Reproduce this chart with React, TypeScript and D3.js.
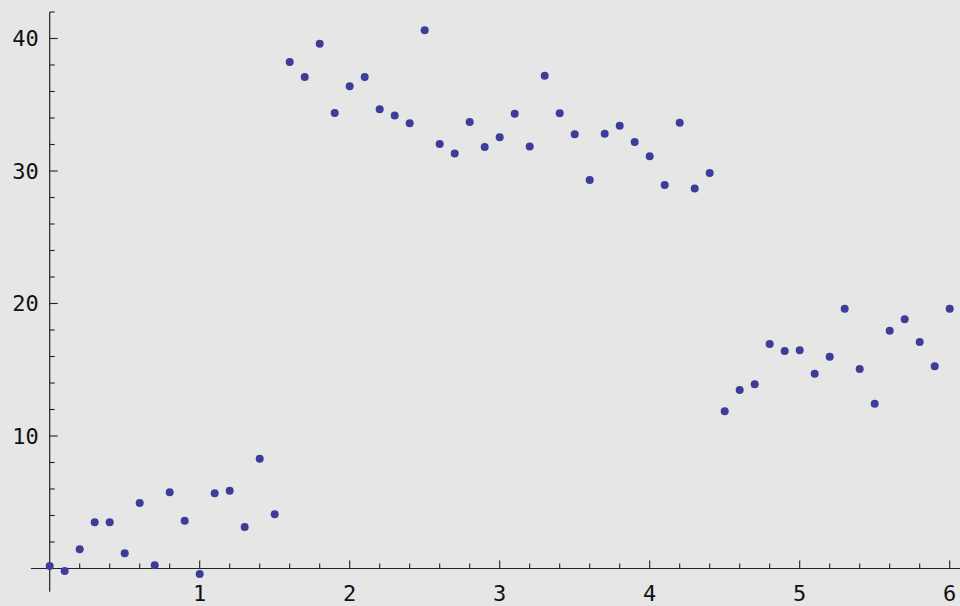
import React, { useEffect, useRef } from 'react';
import * as d3 from 'd3';

// sample positions 0, 0.1, ..., 6.0
const xValues = d3.range(61).map(i => i / 10);

const yValues = [
  0.19, -0.19, 1.45, 3.49, 3.49, 1.15, 4.94, 0.24, 5.75, 3.61,
  -0.42, 5.67, 5.87, 3.13, 8.29, 4.09,
  38.23, 37.09, 39.61, 34.38, 36.39, 37.09, 34.66, 34.18, 33.6, 40.62,
  32.04, 31.33, 33.7, 31.81, 32.54, 34.33, 31.84, 37.19, 34.35, 32.77,
  29.32, 32.82, 33.42, 32.19, 31.11, 28.94, 33.65, 28.67, 29.85,
  11.86, 13.47, 13.9, 16.94, 16.42, 16.47, 14.7, 15.99, 19.61, 15.06,
  12.44, 17.95, 18.81, 17.09, 15.26, 19.61,
];

const xMajorTicks = [1, 2, 3, 4, 5, 6];
const yMajorTicks = [10, 20, 30, 40];

const App: React.FC = () => {
  const svgRef = useRef<SVGSVGElement>(null);

  useEffect(() => {
    if (!svgRef.current) return;
    const svg = d3.select(svgRef.current);
    svg.selectAll('*').remove();

    const width = 960;
    const height = 606;

    const xScale = d3.scaleLinear().domain([0, 6]).range([49.7, 949.7]);
    const yScale = d3.scaleLinear().domain([0, 40]).range([568.5, 38.5]);

    svg.append('rect')
      .attr('width', width)
      .attr('height', height)
      .attr('fill', '#e6e6e6');

    const axisColor = '#222';
    const x0 = xScale(0);
    const y0 = yScale(0);

    // axis lines
    svg.append('line')
      .attr('x1', xScale(-0.125)).attr('x2', width)
      .attr('y1', y0).attr('y2', y0)
      .attr('stroke', axisColor).attr('stroke-width', 1.2);

    svg.append('line')
      .attr('x1', x0).attr('x2', x0)
      .attr('y1', yScale(-1.75)).attr('y2', yScale(42))
      .attr('stroke', axisColor).attr('stroke-width', 1.2);

    // x ticks
    const xMinor = d3.range(1, 31).map(i => i / 5).filter(v => !xMajorTicks.includes(v));
    svg.append('g').selectAll('line.minor')
      .data(xMinor)
      .join('line')
      .attr('x1', d => xScale(d)).attr('x2', d => xScale(d))
      .attr('y1', y0).attr('y2', y0 - 5)
      .attr('stroke', axisColor).attr('stroke-width', 1.1);

    svg.append('g').selectAll('line.major')
      .data(xMajorTicks)
      .join('line')
      .attr('x1', d => xScale(d)).attr('x2', d => xScale(d))
      .attr('y1', y0).attr('y2', y0 - 8)
      .attr('stroke', axisColor).attr('stroke-width', 1.1);

    svg.append('g').selectAll('text')
      .data(xMajorTicks)
      .join('text')
      .attr('x', d => xScale(d))
      .attr('y', 601)
      .attr('text-anchor', 'middle')
      .style('font-family', '"DejaVu Sans Mono", monospace')
      .style('font-size', '22px')
      .style('fill', '#111')
      .text(d => String(d));

    // y ticks
    const yMinor = d3.range(1, 22).map(i => i * 2).filter(v => !yMajorTicks.includes(v));
    svg.append('g').selectAll('line')
      .data(yMinor)
      .join('line')
      .attr('x1', x0).attr('x2', x0 + 5)
      .attr('y1', d => yScale(d)).attr('y2', d => yScale(d))
      .attr('stroke', axisColor).attr('stroke-width', 1.1);

    svg.append('g').selectAll('line')
      .data(yMajorTicks)
      .join('line')
      .attr('x1', x0).attr('x2', x0 + 8)
      .attr('y1', d => yScale(d)).attr('y2', d => yScale(d))
      .attr('stroke', axisColor).attr('stroke-width', 1.1);

    svg.append('g').selectAll('text')
      .data(yMajorTicks)
      .join('text')
      .attr('x', x0 - 11)
      .attr('y', d => yScale(d))
      .attr('dy', '0.36em')
      .attr('text-anchor', 'end')
      .style('font-family', '"DejaVu Sans Mono", monospace')
      .style('font-size', '22px')
      .style('fill', '#111')
      .text(d => String(d));

    // points
    svg.append('g').selectAll('circle')
      .data(xValues.map((x, i) => ({ x, y: yValues[i] })))
      .join('circle')
      .attr('cx', d => xScale(d.x))
      .attr('cy', d => yScale(d.y))
      .attr('r', 4)
      .attr('fill', '#3d3d99');
  }, []);

  return (
    <div style={{ position: 'absolute', left: 0, top: 0, width: 960, height: 606, overflow: 'hidden' }}>
      <svg ref={svgRef} width="960" height="606" style={{ display: 'block' }} />
    </div>
  );
};

export default App;
